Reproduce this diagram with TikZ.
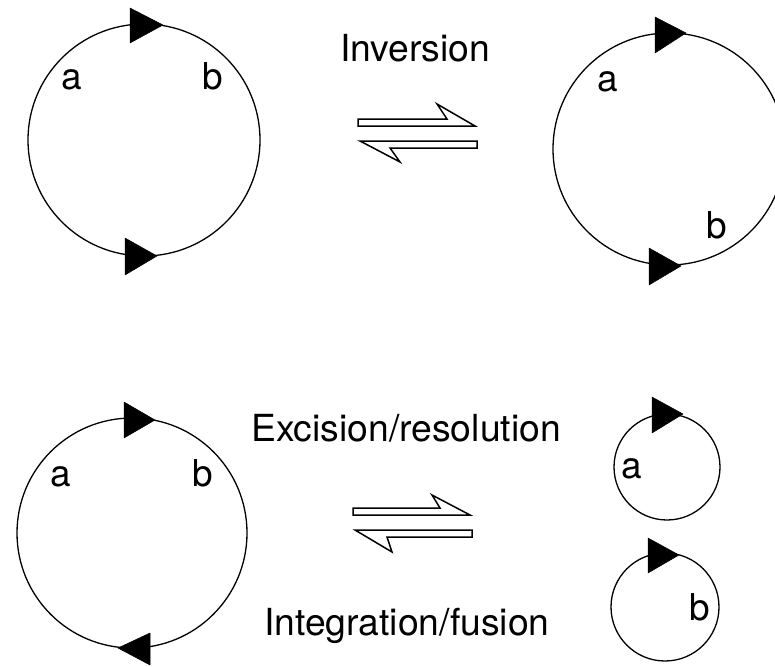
\documentclass[tikz,border=0pt]{standalone}
\usepackage{fontspec}
\setmainfont{TeX Gyre Heros}
\begin{document}
\begin{tikzpicture}[x=1pt,y=-1pt,
  ring/.style={draw=black,line width=1.3pt,circle,inner sep=0pt,minimum size=#1},
  tri/.style={fill=black,draw=black,line width=0.5pt,line join=round},
  harp/.style={draw=black,fill=white,line width=1.5pt,line join=miter},
  lbl/.style={font=\fontsize{37}{40}\selectfont,anchor=base west,inner sep=0pt},
  ttl/.style={font=\fontsize{#1}{40}\selectfont,anchor=base west,inner sep=0pt}]
\useasboundingbox (0,0) rectangle (775,666);
\begin{scope}
\clip (0,0) rectangle (775,666);
% circles
\node[ring=232pt] (c1) at (144,140) {};
\node[ring=232pt] (c2) at (669,149) {};
\node[ring=230pt] (c3) at (132,533) {};
\node[ring=106pt] (c4) at (667,467) {};
\node[ring=108pt] (c5) at (665,607) {};
\end{scope}
% triangles
\fill[tri] (130,8) -- (163,25) -- (130,43) -- cycle;
\fill[tri] (125,238) -- (157,256) -- (125,275) -- cycle;
\fill[tri] (655,17) -- (686,33) -- (655,53) -- cycle;
\fill[tri] (649,248) -- (681,266) -- (649,285) -- cycle;
\fill[tri] (124,402) -- (155,420) -- (124,438) -- cycle;
\fill[tri] (150,633) -- (118,648) -- (150,665) -- cycle;
\fill[tri] (652,397) -- (683,414) -- (652,433) -- cycle;
\fill[tri] (648,538) -- (679,555) -- (648,573) -- cycle;
% labels
\node[lbl] (a1) at (61,89) {a};
\node[lbl] (b1) at (202,89) {b};
\node[lbl] (a2) at (597,92) {a};
\node[lbl] (b2) at (706,238) {b};
\node[lbl] (a3) at (50,486) {a};
\node[lbl] (b3) at (192,486) {b};
\node[lbl] (a4) at (621,478) {a};
\node[lbl] (b4) at (689,620) {b};
% titles
\node[ttl=37.3] (t1) at (340,62) {Inversion};
\node[ttl=37.3] (t2) at (251,441) {Excision/resolution};
\node[ttl=37.3] (t3) at (264,635) {Integration/fusion};
% equilibrium harpoons
\draw[harp] (358,119) -- (447,119) -- (437,104) -- (475,126) -- (358,126) -- cycle;
\draw[harp] (360,141) -- (477,141) -- (477,148) -- (390,148) -- (400,162) -- cycle;
\draw[harp] (353,508) -- (440,508) -- (432,495) -- (470,515) -- (353,515) -- cycle;
\draw[harp] (355,530) -- (472,530) -- (472,537) -- (387,537) -- (392,552) -- cycle;
\end{tikzpicture}
\end{document}
